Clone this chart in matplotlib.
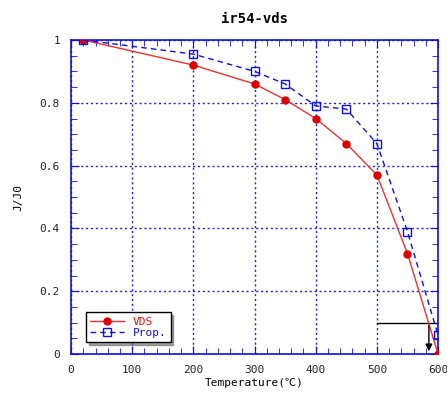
import matplotlib.pyplot as plt
from matplotlib.ticker import MultipleLocator

temp_vds = [20, 200, 300, 350, 400, 450, 500, 550, 600]
vds = [1.0, 0.92, 0.86, 0.81, 0.75, 0.67, 0.57, 0.32, 0.0]
temp_prop = [20, 200, 300, 350, 400, 450, 500, 550, 600]
prop = [1.0, 0.955, 0.90, 0.86, 0.79, 0.78, 0.67, 0.39, 0.06]

plt.rcParams['font.family'] = ['DejaVu Sans Mono', 'Noto Sans CJK JP']
fig = plt.figure(figsize=(4.47, 3.96), dpi=100)
ax = fig.add_axes([0.159, 0.106, 0.821, 0.793])

ax.plot(temp_vds, vds, color='#f03030', lw=1, marker='o', ms=5,
        mfc='#e00000', mec='#e00000', label='VDS', zorder=3)
ax.plot(temp_prop, prop, color='#1010e0', lw=1, ls=(0, (4, 3)), marker='s', ms=5.5,
        mfc='none', mec='#1010e0', label='Prop.', zorder=3)

# 10% line with arrow
ax.plot([500, 600], [0.1, 0.1], color='black', lw=1, zorder=2)
ax.annotate('', xy=(585, 0.0), xytext=(585, 0.1),
            arrowprops=dict(arrowstyle='-|>', color='black', lw=1, mutation_scale=10))

ax.set_xlim(0, 600)
ax.set_ylim(0, 1)
ax.set_xticks([0, 100, 200, 300, 400, 500, 600])
ax.set_xticklabels(['0', '100', '200', '300', '400', '500', '600'])
ax.set_yticks([0, 0.2, 0.4, 0.6, 0.8, 1.0])
ax.set_yticklabels(['0', '0.2', '0.4', '0.6', '0.8', '1'])
ax.xaxis.set_minor_locator(MultipleLocator(20))
ax.yaxis.set_minor_locator(MultipleLocator(0.05))
ax.grid(True, which='major', color='#2020e0', ls=(0, (1.5, 2)), lw=1)
for s in ax.spines.values():
    s.set_color('#1010e0')
    s.set_linewidth(1.2)
ax.tick_params(which='both', direction='in', top=True, right=True,
               color='#1010e0', labelsize=8, labelcolor='#222222', pad=8)
ax.tick_params(which='major', length=6)
ax.tick_params(which='minor', length=4)

ax.set_title('ir54-vds', fontsize=10, fontweight='bold', pad=12)
ax.set_xlabel('Temperature(℃)', fontsize=8, labelpad=2)
ax.set_ylabel('J/J0', fontsize=8, labelpad=12)

leg = ax.legend(loc='lower left', bbox_to_anchor=(0.025, 0.02), fontsize=8,
                frameon=True, fancybox=False, shadow=True, borderpad=0.4,
                handlelength=3, labelspacing=0.1)
leg.get_frame().set_edgecolor('black')
leg.get_frame().set_linewidth(1)
for t, c in zip(leg.get_texts(), ['#e81010', '#1010e0']):
    t.set_color(c)

fig.savefig('out.png', dpi=100)
